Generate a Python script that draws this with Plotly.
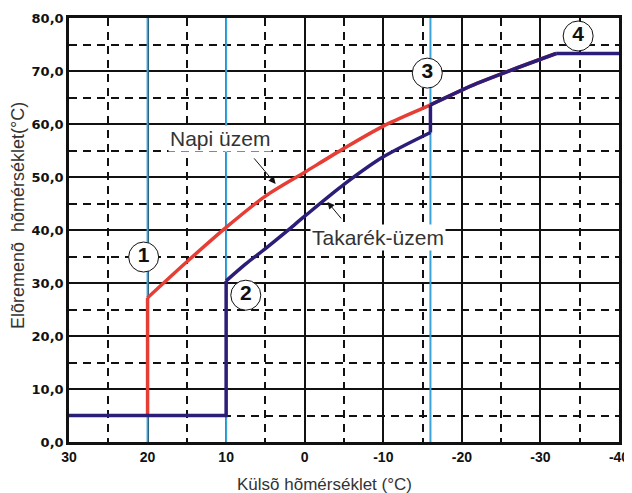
import plotly.graph_objects as go

RED = "#e63d35"
NAVY = "#2b1d78"
SKY = "#3aa3dc"
INK = "#111111"
TEXT = "#333333"

BASE_TEMP = 5          # frost-protection flow temperature
OUTDOOR_MIN = -40      # right end of the plateau

# Napi üzem (day mode) heating curve, from switch-on to the limit
napi_x = [20, 15, 10, 5, 0, -5, -10, -16, -22, -32]
napi_y = [27.2, 34.0, 40.5, 46.4, 50.9, 55.4, 59.6, 63.6, 67.7, 73.3]

# Takarék-üzem (economy mode) curve up to the switch-over point
tak_x = [10, 7.5, 5, 2.5, 0, -5, -10, -16]
tak_y = [30.4, 33.6, 36.5, 39.5, 42.6, 48.6, 53.8, 58.4]
tak_start = 30         # outdoor temp at the left edge of the economy line

# blue marker temperatures
marker_temps = [20, 10, -16]

# circled numbers
badge_x = [20.5, 7.5, -15.6, -34.8]
badge_y = [34.9, 27.7, 69.6, 76.6]
badge_txt = ["1", "2", "3", "4"]

x_ticks = [30, 20, 10, 0, -10, -20, -30, -40]
x_ticktext = ["30", "20", "10", "0", "-10", "-20", "-30", "-40"]
y_ticks = [0, 10, 20, 30, 40, 50, 60, 70, 80]
y_ticktext = ["0,0", "10,0", "20,0", "30,0", "40,0", "50,0", "60,0", "70,0", "80,0"]

fig = go.Figure()

for t in marker_temps:
    fig.add_trace(go.Scatter(x=[t, t], y=[0, 80], mode="lines",
                             line=dict(color=SKY, width=2), hoverinfo="skip"))

W = 3.5
# day mode: vertical step, smooth curve
fig.add_trace(go.Scatter(x=[napi_x[0], napi_x[0]], y=[BASE_TEMP, napi_y[0]], mode="lines",
                         line=dict(color=RED, width=W)))
fig.add_trace(go.Scatter(x=napi_x, y=napi_y, mode="lines",
                         line=dict(color=RED, width=W, shape="spline", smoothing=0.8)))

# economy mode: base line, step, curve, jump onto day curve, shared tail
fig.add_trace(go.Scatter(x=[tak_start, tak_x[0], tak_x[0]], y=[BASE_TEMP, BASE_TEMP, tak_y[0]],
                         mode="lines", line=dict(color=NAVY, width=W)))
fig.add_trace(go.Scatter(x=tak_x, y=tak_y, mode="lines",
                         line=dict(color=NAVY, width=W, shape="spline", smoothing=0.8)))
fig.add_trace(go.Scatter(x=[tak_x[-1], napi_x[7]], y=[tak_y[-1], napi_y[7]], mode="lines",
                         line=dict(color=NAVY, width=W)))
fig.add_trace(go.Scatter(x=napi_x[7:], y=napi_y[7:], mode="lines",
                         line=dict(color=NAVY, width=W, shape="spline", smoothing=0.8)))
fig.add_trace(go.Scatter(x=[napi_x[-1], OUTDOOR_MIN], y=[napi_y[-1], napi_y[-1]], mode="lines",
                         line=dict(color=NAVY, width=W)))

fig.add_trace(go.Scatter(
    x=badge_x, y=badge_y, mode="markers+text", text=badge_txt,
    textposition="middle center",
    textfont=dict(family="Arial", size=21, color=INK, weight="bold"),
    marker=dict(size=30, color="white", line=dict(color=INK, width=1)),
    hoverinfo="skip",
))

# labels with white background
fig.add_annotation(x=10.8, y=57.2, text="Napi üzem", showarrow=False,
                   bgcolor="white", font=dict(size=21, color=TEXT))
fig.add_annotation(x=-9.3, y=38.5, text="Takarék-üzem", showarrow=False,
                   bgcolor="white", font=dict(size=21, color=TEXT))

# pointer arrows
fig.add_annotation(x=3.7, y=48.7, ax=6.6, ay=53.8, axref="x", ayref="y", text="",
                   showarrow=True, arrowhead=2, arrowsize=1.4, arrowwidth=1, arrowcolor=INK)
fig.add_annotation(x=-2.9, y=45.3, ax=-4.8, ay=41.9, axref="x", ayref="y", text="",
                   showarrow=True, arrowhead=2, arrowsize=1.4, arrowwidth=1, arrowcolor=INK)

# axis titles (placed as in the original, slightly off-centre)
fig.add_annotation(text="Elõremenõ\u00a0 hõmérséklet(°C)", textangle=-90, showarrow=False,
                   xref="paper", yref="paper", x=0, y=0.533, xanchor="center", yanchor="middle",
                   xshift=-51, font=dict(size=18, color=TEXT))
fig.add_annotation(text="Külsõ hõmérséklet (°C)", showarrow=False,
                   xref="paper", yref="paper", x=0.465, y=0, xanchor="center", yanchor="middle",
                   yshift=-42, font=dict(size=17, color=TEXT))

AXIS = dict(
    showline=True, linecolor=INK, linewidth=2.5, mirror=True,
    showgrid=True, gridcolor=INK, gridwidth=2,
    zeroline=False, ticks="", automargin=False,
    minor=dict(dtick=5, showgrid=True, gridcolor=INK, gridwidth=2, griddash="8px,6px"),
)

# the page body adds an 8px offset, so the figure is 8px smaller each way
fig.update_layout(
    width=624, height=485,
    paper_bgcolor="white", plot_bgcolor="white",
    margin=dict(l=61, r=13, t=10, b=51),
    showlegend=False,
    font=dict(family="Arial", color=TEXT),
    xaxis=dict(**AXIS, range=[30, -40], tickvals=x_ticks, ticktext=x_ticktext,
               tickfont=dict(family="Arial", size=14, color=INK, weight="bold")),
    yaxis=dict(**AXIS, range=[0, 80], tickvals=y_ticks, ticktext=y_ticktext,
               tickfont=dict(family="DejaVu Sans", size=13, color=INK, weight="bold")),
)

fig.write_html("out.html")
